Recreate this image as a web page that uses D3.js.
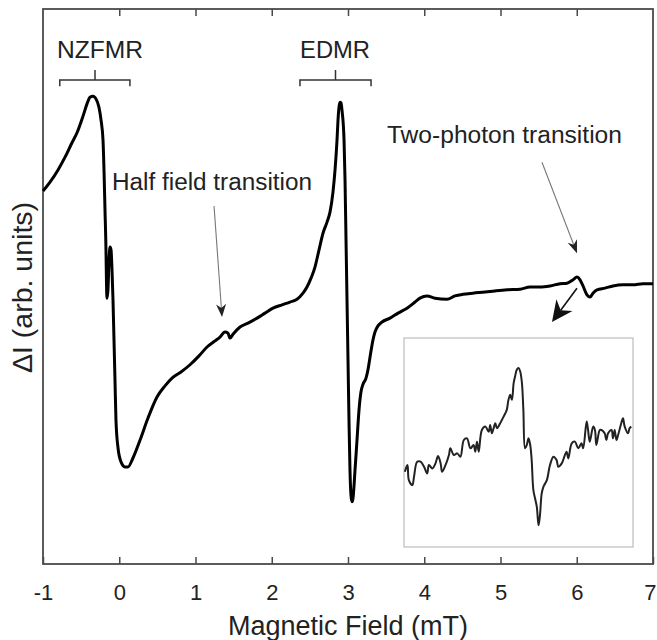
<!DOCTYPE html>
<html>
<head>
<meta charset="utf-8">
<script src="https://cdn.jsdelivr.net/npm/d3@7"></script>
<style>
  html, body { margin: 0; padding: 0; background: #fff; }
  svg { display: block; font-family: "Liberation Sans", Arial, sans-serif; }
</style>
</head>
<body>
<div id="chart"></div>
<script>
// main trace: magnetic field (mT) vs. delta I (arb. units)
const fieldMT = [
  -1.000, -0.908, -0.803, -0.711, -0.620, -0.554, -0.475, -0.423, -0.384, -0.344,
  -0.305, -0.266, -0.239, -0.213, -0.200, -0.187, -0.174, -0.167, -0.161, -0.148,
  -0.134, -0.121, -0.108, -0.095, -0.082, -0.069, -0.056, -0.043, -0.016, 0.023,
  0.075, 0.115, 0.180, 0.272, 0.377, 0.495, 0.600, 0.692, 0.810, 0.928,
  1.046, 1.151, 1.256, 1.321, 1.387, 1.426, 1.452, 1.492, 1.584, 1.689,
  1.807, 1.911, 2.016, 2.134, 2.239, 2.331, 2.410, 2.462, 2.515, 2.567,
  2.620, 2.672, 2.725, 2.764, 2.803, 2.830, 2.856, 2.869, 2.882, 2.895,
  2.908, 2.921, 2.948, 2.961, 2.974, 2.987, 3.000, 3.013, 3.026, 3.039,
  3.052, 3.066, 3.092, 3.118, 3.144, 3.170, 3.197, 3.236, 3.262, 3.289,
  3.328, 3.354, 3.393, 3.446, 3.551, 3.656, 3.774, 3.879, 3.944, 4.036,
  4.141, 4.298, 4.403, 4.508, 4.639, 4.797, 4.928, 5.085, 5.256, 5.387,
  5.518, 5.649, 5.780, 5.872, 5.951, 6.003, 6.043, 6.082, 6.134, 6.174,
  6.213, 6.266, 6.370, 6.475, 6.607, 6.738, 6.869, 7.000
];
const deltaI = [
  67.2, 68.8, 71.0, 73.3, 75.9, 77.7, 80.7, 82.9, 84.1, 84.3,
  83.8, 82.3, 80.0, 76.4, 71.0, 63.8, 56.6, 50.3, 47.9, 49.4,
  54.8, 57.1, 56.6, 53.0, 47.6, 40.4, 33.2, 25.9, 20.9, 18.4,
  17.5, 17.5, 19.1, 22.3, 26.3, 30.1, 32.1, 33.5, 34.6, 35.9,
  37.5, 39.1, 40.2, 40.9, 41.8, 41.6, 40.7, 41.4, 42.7, 43.4,
  44.3, 45.2, 46.1, 46.7, 47.2, 47.7, 48.8, 49.9, 51.5, 53.5,
  56.6, 59.6, 61.6, 63.4, 67.0, 71.0, 76.4, 80.0, 82.3, 83.2,
  83.1, 81.8, 76.4, 69.2, 58.4, 47.6, 36.8, 25.9, 16.9, 12.4,
  11.2, 11.9, 16.9, 22.3, 27.7, 31.0, 32.4, 33.5, 35.0, 37.3,
  40.4, 41.8, 42.9, 43.6, 44.3, 45.2, 46.1, 47.2, 47.9, 48.3,
  47.9, 47.7, 48.3, 48.6, 48.8, 49.0, 49.2, 49.4, 49.5, 49.9,
  49.9, 50.1, 50.5, 50.6, 51.2, 51.7, 51.2, 50.1, 48.5, 48.1,
  48.8, 49.4, 49.7, 50.1, 50.3, 50.3, 50.5, 50.5
];

// inset: zoom on the two-photon transition
const insetField = [
  5.603, 5.612, 5.617, 5.629, 5.635, 5.646, 5.658, 5.670, 5.681, 5.687,
  5.699, 5.710, 5.719, 5.728, 5.733, 5.745, 5.757, 5.762, 5.774, 5.786,
  5.797, 5.809, 5.820, 5.832, 5.843, 5.849, 5.855, 5.861, 5.872, 5.884,
  5.896, 5.901, 5.907, 5.913, 5.919, 5.925, 5.936, 5.942, 5.954, 5.959,
  5.965, 5.971, 5.977, 5.983, 5.988, 5.994, 6.000, 6.006, 6.012, 6.017,
  6.023, 6.029, 6.035, 6.041, 6.046, 6.052, 6.058, 6.064, 6.070, 6.075,
  6.081, 6.087, 6.099, 6.110, 6.122, 6.133, 6.139, 6.151, 6.162, 6.168,
  6.174, 6.186, 6.197, 6.209, 6.220, 6.226, 6.238, 6.243, 6.249, 6.261,
  6.267, 6.272, 6.284, 6.290, 6.301, 6.307, 6.313, 6.325, 6.330, 6.336,
  6.342, 6.348, 6.359, 6.365, 6.371, 6.383, 6.388, 6.394
];
const insetSignal = [
  36.0, 39.2, 32.0, 29.6, 33.6, 40.8, 40.8, 38.4, 35.2, 39.2,
  37.6, 40.0, 43.5, 40.0, 36.0, 39.2, 44.0, 47.2, 44.0, 44.8,
  43.2, 51.2, 52.0, 47.2, 48.8, 45.6, 50.4, 45.6, 56.0, 57.6,
  55.2, 58.4, 54.4, 56.8, 59.2, 56.8, 59.2, 60.8, 64.0, 65.6,
  70.4, 72.8, 70.4, 78.4, 81.6, 84.8, 85.6, 84.0, 78.4, 65.6,
  47.2, 48.8, 52.0, 48.8, 41.6, 27.2, 23.2, 19.2, 10.4, 15.2,
  25.6, 28.8, 32.0, 39.2, 43.2, 41.6, 38.4, 40.0, 44.0, 45.6,
  42.4, 49.6, 50.4, 47.2, 49.6, 47.2, 60.0, 56.0, 50.4, 57.6,
  56.0, 48.8, 56.0, 56.0, 54.4, 51.2, 54.4, 56.0, 52.0, 56.0,
  51.2, 53.6, 59.2, 61.6, 57.6, 54.4, 56.8, 57.6
];

const xTicks = [-1, 0, 1, 2, 3, 4, 5, 6, 7];

// bracket annotations: [left, centre, right] in mT
const brackets = [
  { label: "NZFMR", span: [-0.78, -0.318, 0.14], textX: -0.252, len: 86 },
  { label: "EDMR", span: [2.37, 2.836, 3.302], textX: 2.83, len: 70 }
];

// arrows: from (x1,y1) to tip (x2,y2), in data units
const arrows = [
  { from: [1.243, 64.5], to: [1.348, 44.5], color: "#777", head: "#222", width: 1.1, size: [13, 5] },
  { from: [5.544, 72.4], to: [6.003, 56.0], color: "#777", head: "#222", width: 1.1, size: [13, 5] },
  { from: [6.003, 49.7], to: [5.675, 43.6], color: "#111", head: "#111", width: 1.6, size: [21, 10] }
];

const notes = [
  { text: "Half field transition", x: -0.095, y: 67.4, len: 200 },
  { text: "Two-photon transition", x: 3.511, y: 75.9, len: 235 }
];

const W = 657, H = 640;
const margin = { top: 9, right: 4, bottom: 76, left: 43 };

const svg = d3.select("#chart").append("svg")
  .attr("width", W)
  .attr("height", H);

const x = d3.scaleLinear().domain([-1, 7]).range([margin.left, W - margin.right]);
const y = d3.scaleLinear().domain([0, 100]).range([H - margin.bottom, margin.top]);

const axisColor = "#4a4a4a";

// ticks pointing inward, bottom and top
svg.append("g")
  .attr("transform", `translate(0,${y(0)})`)
  .call(d3.axisBottom(x).tickValues(xTicks).tickSize(-7).tickPadding(20).tickFormat(d => String(d)))
  .call(g => g.select(".domain").remove())
  .call(g => g.selectAll(".tick line").attr("stroke", axisColor).attr("stroke-width", 1.5))
  .call(g => g.selectAll(".tick text")
    .attr("font-size", 22)
    .attr("font-family", "Liberation Sans, Arial, sans-serif")
    .attr("fill", "#222"))
  // last label sits against the right edge of the page
  .call(g => g.selectAll(".tick text").filter(d => d === 7).attr("text-anchor", "end").attr("dx", 3));

svg.append("g")
  .attr("transform", `translate(0,${y(100)})`)
  .call(d3.axisTop(x).tickValues(xTicks.slice(1, -1)).tickSize(-7).tickFormat(""))
  .call(g => g.select(".domain").remove())
  .call(g => g.selectAll(".tick line").attr("stroke", axisColor).attr("stroke-width", 1.5));

// frame
svg.append("rect")
  .attr("x", x(-1))
  .attr("y", y(100))
  .attr("width", x(7) - x(-1))
  .attr("height", y(0) - y(100))
  .attr("fill", "none")
  .attr("stroke", axisColor)
  .attr("stroke-width", 1.8);

// main trace
const line = d3.line()
  .x((d, i) => x(fieldMT[i]))
  .y(d => y(d))
  .curve(d3.curveMonotoneX);

svg.append("path")
  .datum(deltaI)
  .attr("d", line)
  .attr("fill", "none")
  .attr("stroke", "#000")
  .attr("stroke-width", 3)
  .attr("stroke-linejoin", "round");

// brackets
const bracket = svg.append("g").attr("stroke", "#333").attr("stroke-width", 1.5).attr("fill", "none");
brackets.forEach(b => {
  const [l, c, r] = b.span;
  bracket.append("path")
    .attr("d", `M${x(l)},${y(86.1)}V${y(87.2)}H${x(r)}V${y(86.1)}M${x(c)},${y(87.2)}V${y(89.0)}`);
  svg.append("text")
    .attr("x", x(b.textX) - b.len / 2)
    .attr("y", y(91.2))
    .attr("font-size", 23.5)
    .attr("textLength", b.len)
    .attr("lengthAdjust", "spacingAndGlyphs")
    .attr("fill", "#222")
    .text(b.label);
});

notes.forEach(n => {
  svg.append("text")
    .attr("x", x(n.x))
    .attr("y", y(n.y))
    .attr("font-size", 23.5)
    .attr("textLength", n.len)
    .attr("lengthAdjust", "spacingAndGlyphs")
    .attr("fill", "#222")
    .text(n.text);
});

// arrows with swept-back heads
arrows.forEach(a => {
  const x1 = x(a.from[0]), y1 = y(a.from[1]);
  const x2 = x(a.to[0]), y2 = y(a.to[1]);
  const ang = Math.atan2(y2 - y1, x2 - x1);
  const [len, half] = a.size;
  const ux = Math.cos(ang), uy = Math.sin(ang);
  const bx = x2 - ux * len, by = y2 - uy * len;
  const nx = x2 - ux * len * 0.7, ny = y2 - uy * len * 0.7;
  svg.append("line")
    .attr("x1", x1).attr("y1", y1)
    .attr("x2", nx).attr("y2", ny)
    .attr("stroke", a.color)
    .attr("stroke-width", a.width);
  svg.append("path")
    .attr("d", `M${x2},${y2}L${bx - uy * half},${by + ux * half}L${nx},${ny}L${bx + uy * half},${by - ux * half}Z`)
    .attr("fill", a.head);
});

// inset
const inset = { x0: 404, y0: 338, x1: 633, y1: 547 };
svg.append("rect")
  .attr("x", inset.x0)
  .attr("y", inset.y0)
  .attr("width", inset.x1 - inset.x0)
  .attr("height", inset.y1 - inset.y0)
  .attr("fill", "#fff")
  .attr("stroke", "#bdbdbd")
  .attr("stroke-width", 1.2);

const ix = d3.scaleLinear().domain([5.6, 6.4]).range([inset.x0, inset.x1]);
const iy = d3.scaleLinear().domain([0, 100]).range([inset.y1, inset.y0]);

svg.append("path")
  .datum(insetSignal)
  .attr("d", d3.line()
    .x((d, i) => ix(insetField[i]))
    .y(d => iy(d))
    .curve(d3.curveCatmullRom))
  .attr("fill", "none")
  .attr("stroke", "#222")
  .attr("stroke-width", 2)
  .attr("stroke-linejoin", "round");

// axis titles
svg.append("text")
  .attr("x", x(3))
  .attr("y", 635)
  .attr("text-anchor", "middle")
  .attr("font-size", 27)
  .attr("fill", "#222")
  .text("Magnetic Field (mT)");

svg.append("text")
  .attr("transform", `translate(32,${y(50) + 1}) rotate(-90)`)
  .attr("text-anchor", "middle")
  .attr("font-size", 28.5)
  .attr("fill", "#222")
  .text("ΔI (arb. units)");
</script>
</body>
</html>
